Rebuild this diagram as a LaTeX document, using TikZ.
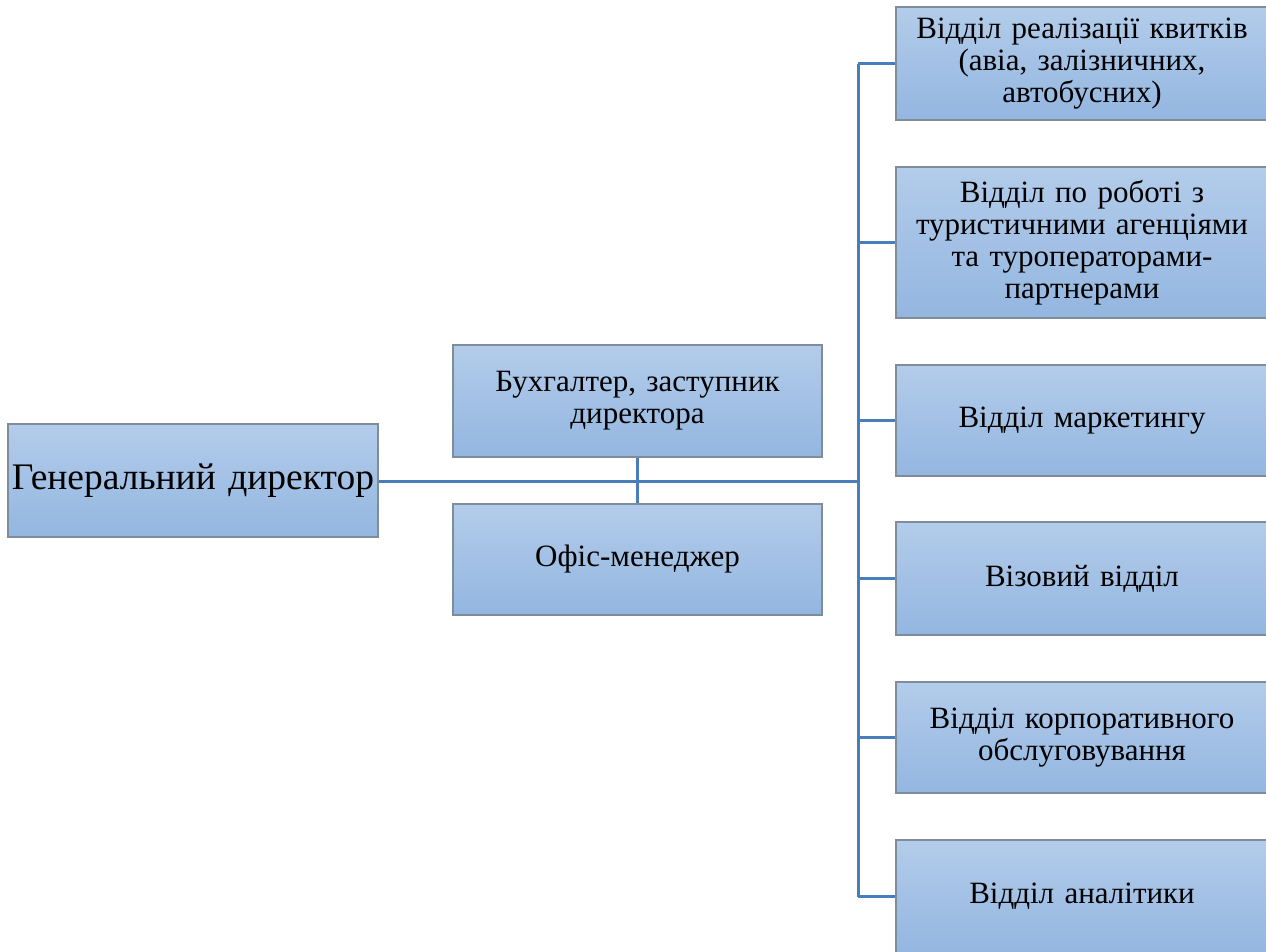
\documentclass[tikz,border=0pt]{standalone}
\usepackage{fontspec}
\setmainfont{Liberation Serif}
\definecolor{linec}{HTML}{4A7EBB}
\definecolor{boxtop}{HTML}{B3CCEA}
\definecolor{boxbot}{HTML}{93B6E0}
\definecolor{boxdraw}{HTML}{7F8C99}
\begin{document}
\begin{tikzpicture}[x=1pt,y=-1pt,
  box/.style={rectangle,draw=boxdraw,line width=1.5pt,top color=boxtop,bottom color=boxbot,
    inner sep=0pt,align=center,font=\fontsize{31}{32}\selectfont},
  conn/.style={draw=linec,line width=3pt}]
\useasboundingbox (0,0) rectangle (1266,952);
\node[box,minimum width=370pt,minimum height=113pt,text width=366pt,font=\fontsize{37.5}{40}\selectfont] (gen) at (193,480.5) {Генеральний директор};
\node[box,minimum width=369pt,minimum height=112pt,text width=350pt] (buh) at (637.5,401) {Бухгалтер, заступник\\директора};
\node[box,minimum width=369pt,minimum height=111pt,text width=350pt] (ofis) at (637.5,559.5) {Офіс-менеджер};
\node[box,minimum width=372pt,minimum height=113pt,text width=360pt] (r1) at (1082,63.5) {Відділ реалізації квитків\\(авіа, залізничних,\\автобусних)};
\node[box,minimum width=372pt,minimum height=151pt,text width=360pt] (r2) at (1082,242.5) {Відділ по роботі з\\туристичними агенціями\\та туроператорами-\\партнерами};
\node[box,minimum width=372pt,minimum height=111pt,text width=360pt] (r3) at (1082,420.5) {Відділ маркетингу};
\node[box,minimum width=372pt,minimum height=113pt,text width=360pt] (r4) at (1082,578.5) {Візовий відділ};
\node[box,minimum width=372pt,minimum height=111pt,text width=360pt] (r5) at (1082,737.5) {Відділ корпоративного\\обслуговування};
\node[box,minimum width=372pt,minimum height=113pt,text width=360pt] (r6) at (1082,896.5) {Відділ аналітики};
\coordinate (bus) at (858,481);
\coordinate (top) at (858,64);
\coordinate (bot) at (858,897);
\draw[conn] (gen.east |- bus) -- (bus);
\draw[conn] (buh.south) -- (ofis.north);
\draw[conn] (top) -- (bot);
\foreach \n in {r1,r2,r3,r4,r5,r6}{\draw[conn] (bus |- \n.west) -- (\n.west);}
\end{tikzpicture}
\end{document}
